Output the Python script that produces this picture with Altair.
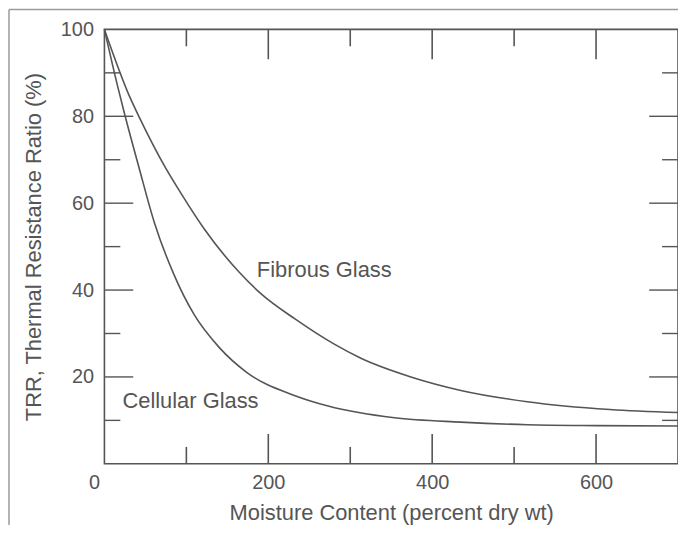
import altair as alt
import pandas as pd

fib_x = [0, 32, 42, 75, 95, 121, 164, 192, 233, 280, 313, 374, 435, 516, 617, 700]
fib_y = [100, 84, 80, 68, 61.8, 54.3, 44.2, 39, 33.3, 27.6, 24.3, 20, 16.9, 14.3, 12.5, 11.8]
cel_x = [0, 16, 24, 42.5, 61, 85, 109, 140, 174, 231, 273, 354, 435, 516, 600, 700]
cel_y = [100, 87, 81, 68, 55.5, 43.5, 34.5, 26.8, 21, 15.8, 13.3, 10.6, 9.6, 9, 8.8, 8.7]

x_major = [200, 400, 600]
x_minor = [100, 300, 500]
y_major = [20, 40, 60, 80]
y_minor = [10, 30, 50, 70, 90]

label_text = ["Fibrous Glass", "Cellular Glass"]
label_x = [186, 22]
label_y = [44.6, 14.4]

FONT = "Liberation Sans"
GRAY = "#555555"
W, H = 577, 437

df = pd.concat([
    pd.DataFrame({"x": fib_x, "y": fib_y, "s": "Fibrous"}),
    pd.DataFrame({"x": cel_x, "y": cel_y, "s": "Cellular"}),
])

xs = alt.Scale(domain=[0, 700], nice=False, zero=False)
ys = alt.Scale(domain=[0, 100], nice=False, zero=False)

lines = alt.Chart(df).mark_line(color=GRAY, strokeWidth=1.6, interpolate="monotone").encode(
    x=alt.X("x:Q", scale=xs, title="Moisture Content (percent dry wt)",
            axis=alt.Axis(values=[0, 200, 400, 600], ticks=False, domain=False, grid=False,
                          labelPadding=9, titlePadding=10,
                          labelOffset={"condition": {"test": "datum.value == 0", "value": -16}, "value": 0})),
    y=alt.Y("y:Q", scale=ys, title="TRR, Thermal Resistance Ratio (%)",
            axis=alt.Axis(values=[20, 40, 60, 80, 100], ticks=False, domain=False, grid=False,
                          labelPadding=11, titlePadding=15, labelFontSize=20)),
    detail="s:N",
)

def xticks(vals, length):
    d = pd.DataFrame({"v": vals})
    bot = alt.Chart(d).mark_rule(color=GRAY, strokeWidth=1.6).encode(
        x=alt.X("v:Q", scale=xs), y=alt.value(H), y2=alt.value(H - length))
    top = alt.Chart(d).mark_rule(color=GRAY, strokeWidth=1.6).encode(
        x=alt.X("v:Q", scale=xs), y=alt.value(0), y2=alt.value(length))
    return bot + top

def yticks(vals, length):
    d = pd.DataFrame({"v": vals})
    left = alt.Chart(d).mark_rule(color=GRAY, strokeWidth=1.4).encode(
        y=alt.Y("v:Q", scale=ys), x=alt.value(0), x2=alt.value(length))
    right = alt.Chart(d).mark_rule(color=GRAY, strokeWidth=1.4).encode(
        y=alt.Y("v:Q", scale=ys), x=alt.value(W), x2=alt.value(W - length))
    return left + right

labels = alt.Chart(pd.DataFrame({"t": label_text, "x": label_x, "y": label_y})).mark_text(
    align="left", baseline="middle", font=FONT, fontSize=22, color=GRAY
).encode(x=alt.X("x:Q", scale=xs), y=alt.Y("y:Q", scale=ys), text="t:N")

frame_d = pd.DataFrame({"k": [1]})
frame_left = alt.Chart(frame_d).mark_rule(color="#9a9a9a", strokeWidth=1.5).encode(
    x=alt.value(-96), y=alt.value(-20), y2=alt.value(510))
frame_top = alt.Chart(frame_d).mark_rule(color="#9a9a9a", strokeWidth=1.5).encode(
    x=alt.value(-96), x2=alt.value(590), y=alt.value(-20))

chart = alt.layer(
    frame_left, frame_top,
    xticks(x_major, 30), xticks(x_minor, 17),
    yticks(y_major, 29), yticks(y_minor, 16),
    lines, labels,
).properties(
    width=W, height=H,
    padding={"left": 97, "top": 20, "right": 0, "bottom": 60},
    autosize="none",
    background="white",
).configure_view(
    stroke=GRAY, strokeWidth=1.6
).configure_axis(
    labelFont=FONT, titleFont=FONT, labelFontSize=20, titleFontSize=22,
    labelColor=GRAY, titleColor=GRAY, titleFontWeight="normal",
)

chart.save("out.html", embed_options={"renderer": "svg", "actions": False})
